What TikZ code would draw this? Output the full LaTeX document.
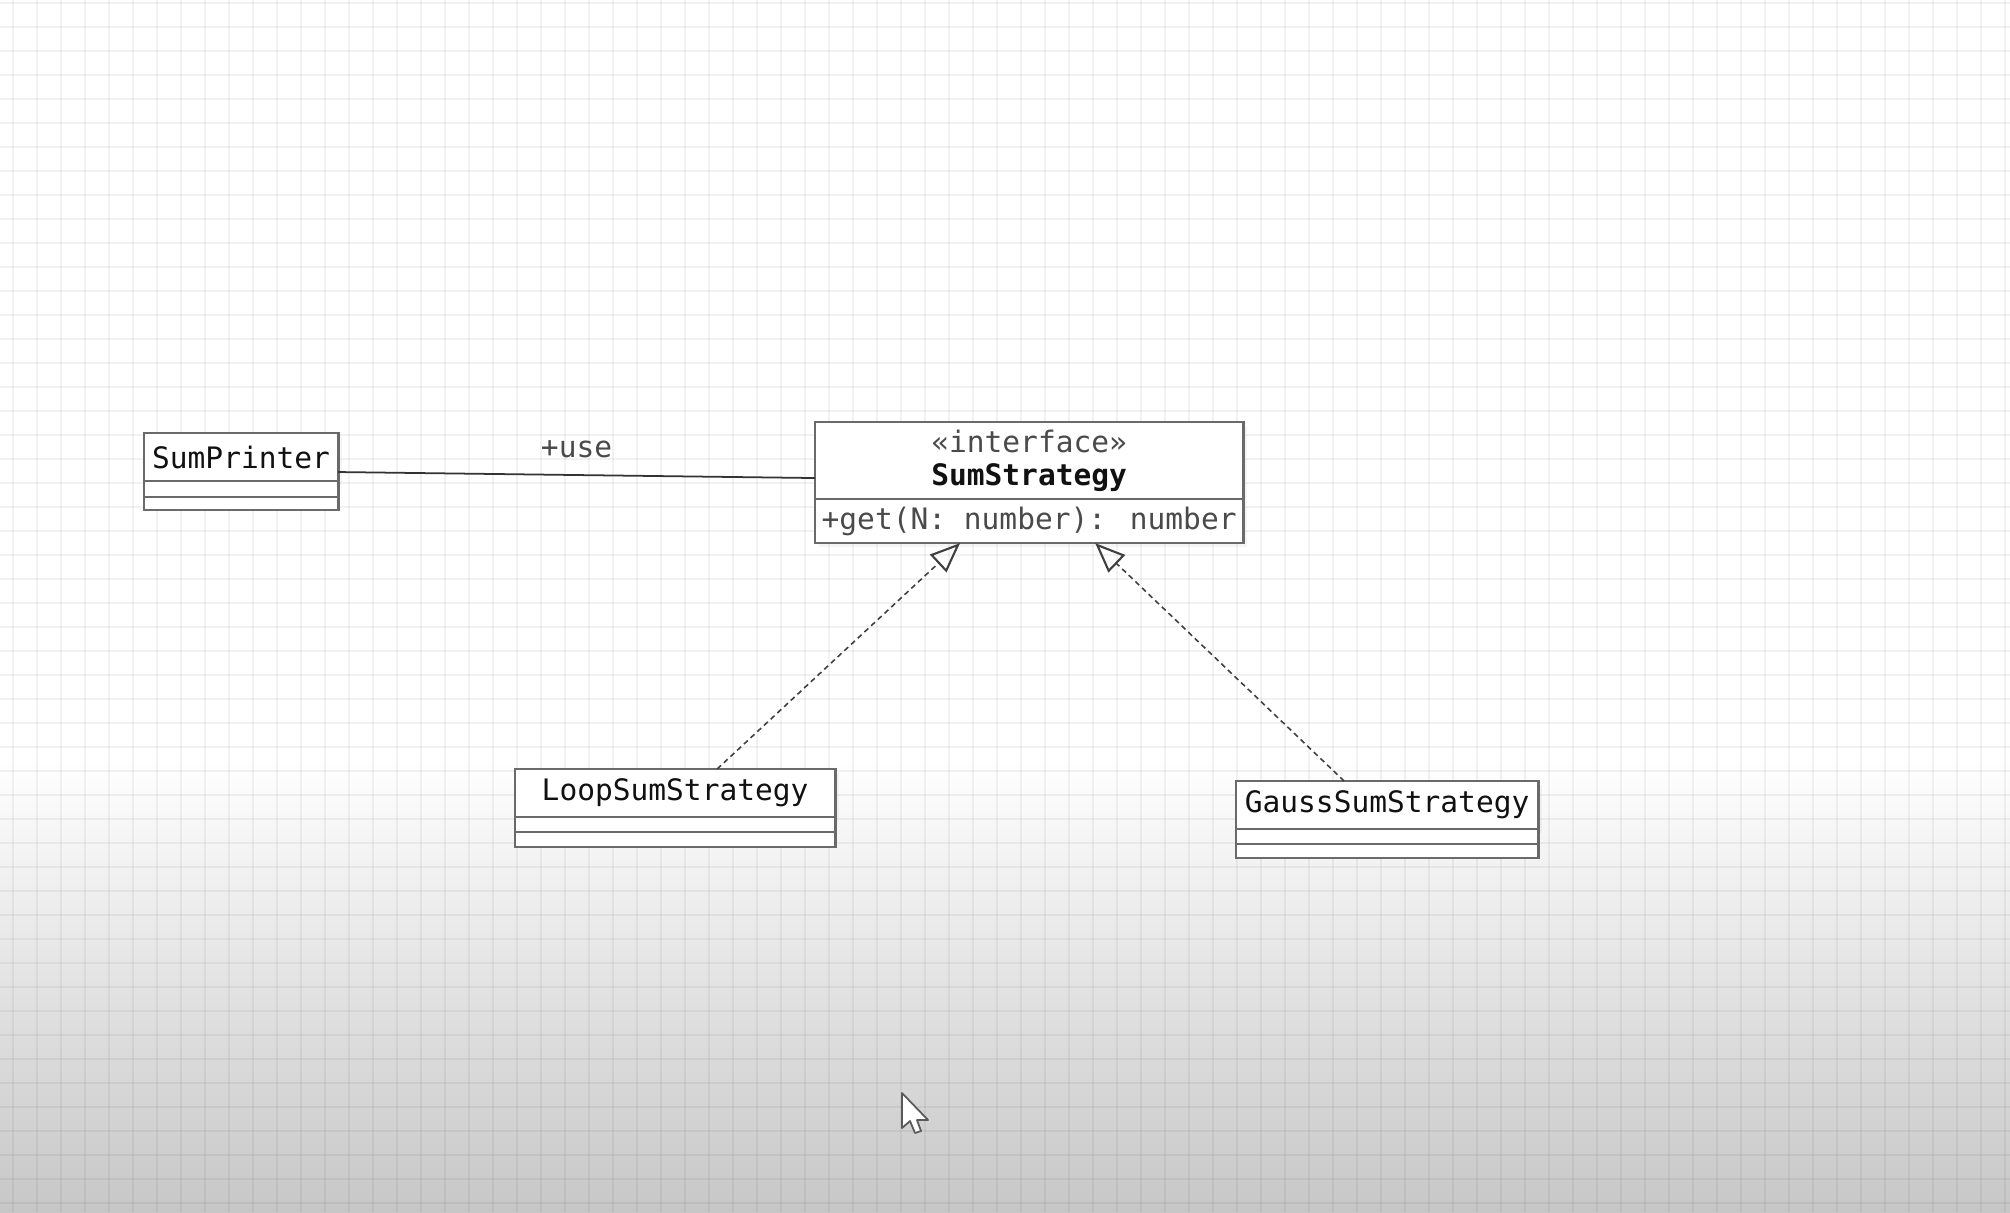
\documentclass[tikz,border=0pt]{standalone}
\usepackage{fontspec}
\usetikzlibrary{positioning,arrows.meta,shadows}
\newfontfamily\umlfont{DejaVu Sans Mono}
\newcommand{\umltext}{\umlfont\fontsize{8.4}{9.4}\selectfont}
\definecolor{boxline}{HTML}{6A6A6A}
\definecolor{labelgray}{HTML}{4A4A4A}
\definecolor{ink}{HTML}{111111}
\tikzset{
    classhead/.style={draw=boxline,line width=0.8pt,fill=white,inner sep=0pt,outer sep=0pt,
        minimum height=0.48cm,font=\umltext,text=ink,
        drop shadow={opacity=0.08,shadow xshift=0.04cm,shadow yshift=-0.04cm}},
    slot/.style={draw=boxline,line width=0.8pt,fill=white,inner sep=0pt,outer sep=0pt,minimum height=0.15cm},
    realize/.style={draw=black!75,line width=0.45pt,dash pattern=on 1.5pt off 1.1pt,
        -{Triangle[open,length=0.3cm,width=0.24cm,line width=0.6pt]}},
    assoc/.style={draw=black!80,line width=0.5pt},
    gridline/.style={black,opacity=0.05,line width=0.4pt}
}
\begin{document}
\begin{tikzpicture}[x=0.01cm,y=-0.01cm]
                \useasboundingbox (0,0) rectangle (2010,1212);
                % paper with grid
                \fill[white] (0,0) rectangle (2010,1212);
                \shade[top color=white,bottom color=black!22] (0,760) rectangle (2010,1212);
                \foreach \gx in {13,37,...,2010} \draw[gridline] (\gx,0) -- (\gx,1212);
                \foreach \gy in {3,27,...,1212} \draw[gridline] (0,\gy) -- (2010,\gy);
                % classes
                \node[classhead,minimum width=1.94cm,anchor=north west] (sp) at (144,433) {SumPrinter};
                \node[slot,minimum width=1.94cm,minimum height=0.16cm,below=0pt of sp] (sp1) {};
                \node[slot,minimum width=1.94cm,minimum height=0.13cm,below=0pt of sp1] (sp2) {};
                \node[classhead,minimum width=4.28cm,minimum height=0.77cm,align=center,anchor=north west] (ss) at (815,422)
                    {{\color{labelgray}«interface»}\\\textbf{SumStrategy}};
                \node[classhead,minimum width=4.28cm,minimum height=0.44cm,text=labelgray,below=0pt of ss] (get) {+get(N: number): number};
                \node[classhead,minimum width=3.20cm,anchor=north west] (loop) at (515,769) {LoopSumStrategy};
                \node[slot,minimum width=3.20cm,below=0pt of loop] (loop1) {};
                \node[slot,minimum width=3.20cm,below=0pt of loop1] (loop2) {};
                \node[classhead,minimum width=3.02cm,anchor=north west] (gauss) at (1236,781) {GaussSumStrategy};
                \node[slot,minimum width=3.02cm,below=0pt of gauss] (gauss1) {};
                \node[slot,minimum width=3.02cm,minimum height=0.14cm,below=0pt of gauss1] (gauss2) {};
                % relations
                \draw[assoc] ([yshift=0.09cm]sp.south east) -- node[midway,above=0.05cm,font=\umltext,text=labelgray] (use) {+use} ([yshift=0.21cm]ss.south west);
                \draw[realize] ([xshift=0.42cm]loop.north) -- ([xshift=-0.69cm]get.south);
                \draw[realize] ([xshift=-0.43cm]gauss.north) -- ([xshift=0.66cm]get.south);
                % pointer
                \draw[black!65,fill=white,line width=0.5pt,line join=round] (902,1093) -- (902,1128) -- (910,1121) -- (915,1133) -- (921,1131) -- (917,1120) -- (928,1120) -- cycle;
            \end{tikzpicture}
\end{document}
